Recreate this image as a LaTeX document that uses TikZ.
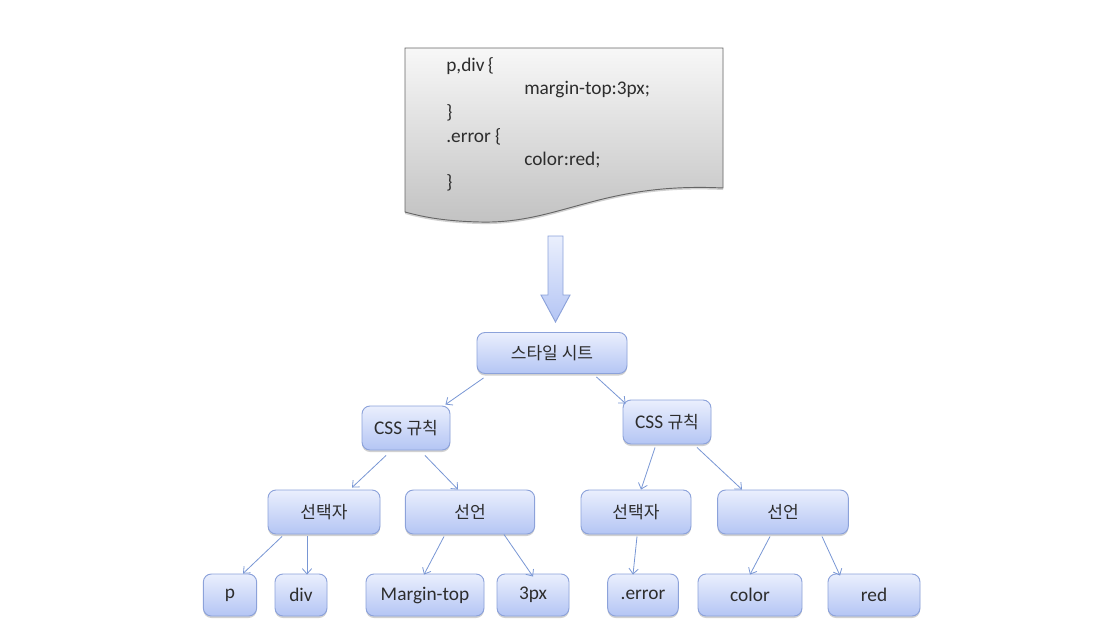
\documentclass[tikz,border=0pt]{standalone}
\usepackage{fontspec}
\setmainfont{Carlito}
\newfontfamily\korfont{Noto Sans CJK KR}
\usepackage{xcolor}
\usepackage{tikz}
\usetikzlibrary{
  arrows.meta,
  calc,
  shadows
}
\definecolor{boxtop}{RGB}{234, 239, 253}
\definecolor{boxbot}{RGB}{180, 197, 244}
\definecolor{boxline}{RGB}{140, 162, 218}
\definecolor{linkblue}{RGB}{120, 150, 212}
\definecolor{txtgray}{RGB}{45, 45, 45}
\newcommand{\hangul}[1]{{\korfont\fontsize{12.8}{15}\selectfont #1}}

\begin{document}
\begin{tikzpicture}[
  x=0.75pt, y=-0.75pt,
  tbox/.style={
    rounded corners=6pt, draw=boxline, line width=0.7pt,
    top color=boxtop, bottom color=boxbot, text=txtgray,
    minimum height=33pt, inner sep=0pt,
    font=\fontsize{14.5}{17}\selectfont,
    drop shadow={shadow xshift=0pt, shadow yshift=-1.5pt, opacity=0.18, fill=black}
  },
  codeline/.style={anchor=west, inner sep=0pt, text=txtgray,
    font=\fontsize{14.5}{17}\selectfont},
  conn/.style={draw=linkblue, line width=0.6pt,
    -{Straight Barb[length=4pt, width=7pt]}}
]
\useasboundingbox (0,0) rectangle (1112,640);

% the style sheet as a page
\draw[draw=black!60, line width=0.7pt, top color=black!3, bottom color=black!24,
  drop shadow={shadow xshift=0pt, shadow yshift=-1.5pt, opacity=0.18, fill=black}]
  (405,48) -- (723,48) -- (723,188)
  .. controls (600,182) and (560,224) .. (480,222)
  .. controls (440,221) and (420,216) .. (405,212) -- cycle;
\node[codeline] (l1) at (446,66) {p,div\,\{};
\node[codeline] (l2) at (524,90) {margin-top:3px;};
\node[codeline] (l3) at (446,113) {\}};
\node[codeline] (l4) at (446,137) {.error \{};
\node[codeline] (l5) at (524,160) {color:red;};
\node[codeline] (l6) at (446,183) {\}};

% big arrow down to the tree
\draw[draw=boxline, line width=0.7pt, top color=boxtop, bottom color=boxbot]
  (548,236) -- (563,236) -- (563,295) -- (570,295) -- (555.5,322)
  -- (541,295) -- (548,295) -- cycle;

% tree
\node[tbox, minimum width=112.5pt, minimum height=30.75pt] (sheet) at (552,353) {\hangul{스타일 시트}};

\node[tbox, minimum width=66pt] (cssl) at (406,428) {CSS \hangul{규칙}};
\node[tbox, minimum width=66pt] (cssr) at (667,422) {CSS \hangul{규칙}};

\node[tbox, minimum width=84pt] (sell) at (324,512) {\hangul{선택자}};
\node[tbox, minimum width=97pt] (decl) at (470,512) {\hangul{선언}};
\node[tbox, minimum width=82.5pt] (selr) at (636,512) {\hangul{선택자}};
\node[tbox, minimum width=98pt] (decr) at (783,512) {\hangul{선언}};

\node[tbox, minimum width=40pt, minimum height=31.5pt] (p) at (230,595) {p};
\node[tbox, minimum width=39pt, minimum height=31.5pt] (div) at (301,595) {div};
\node[tbox, minimum width=88.5pt, minimum height=31.5pt] (mtop) at (425,595) {Margin-top};
\node[tbox, minimum width=54pt, minimum height=31.5pt] (px) at (533,595) {3px};
\node[tbox, minimum width=53pt, minimum height=31.5pt] (err) at (643,595) {.error};
\node[tbox, minimum width=78pt, minimum height=31.5pt] (col) at (750,595) {color};
\node[tbox, minimum width=69pt, minimum height=31.5pt] (red) at (874,595) {red};

% connectors
\draw[conn] ($(sheet.south west)+(7,4)$) -- ($(cssl.north east)+(-5,-1)$);
\draw[conn] ($(sheet.south east)+(-31,3)$) -- ($(cssr.north west)+(3,4)$);
\draw[conn] ($(cssl.south)+(-20,5)$) -- ($(sell.north)+(28,-2)$);
\draw[conn] ($(cssl.south)+(19,5)$) -- ($(decl.north)+(-12,0)$);
\draw[conn] ($(cssr.south)+(-12,3)$) -- ($(selr.north)+(5,0)$);
\draw[conn] ($(cssr.south)+(30,3)$) -- ($(decr.north)+(-41,0)$);
\draw[conn] ($(sell.south)+(-42,2)$) -- ($(p.north)+(13,0)$);
\draw[conn] ($(sell.south)+(-17,2)$) -- ($(div.north)+(6,1)$);
\draw[conn] ($(decl.south)+(-26,2)$) -- ($(mtop.north)+(-1,1)$);
\draw[conn] ($(decl.south)+(34,0)$) -- ($(px.north)+(0,3)$);
\draw[conn] ($(selr.south)+(1,2)$) -- ($(err.north)+(-10,1)$);
\draw[conn] ($(decr.south)+(-13,2)$) -- ($(col.north)+(0,1)$);
\draw[conn] ($(decr.south)+(39,2)$) -- ($(red.north)+(-34,2)$);
\end{tikzpicture}
\end{document}
